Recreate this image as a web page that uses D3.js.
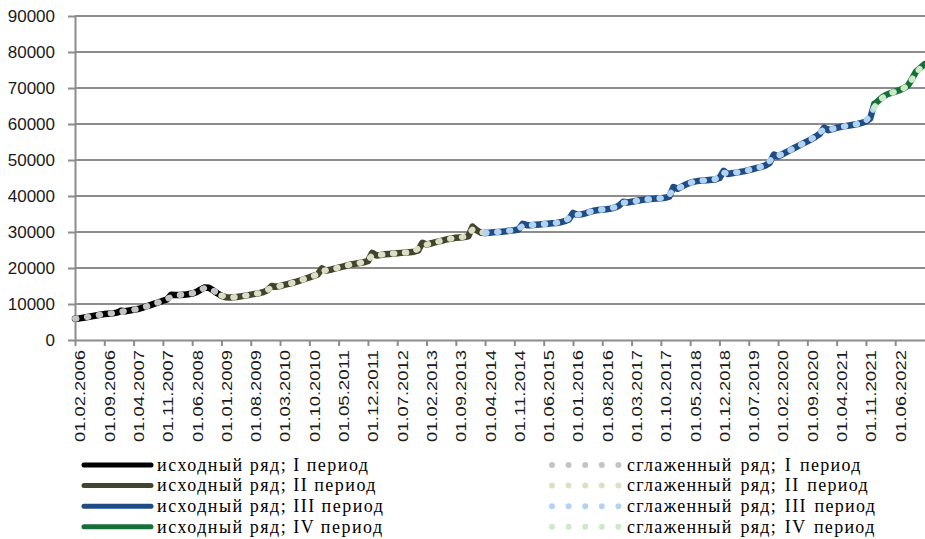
<!DOCTYPE html>
<html>
<head>
<meta charset="utf-8">
<script src="https://cdnjs.cloudflare.com/ajax/libs/d3/7.8.5/d3.min.js"></script>
<style>
body{margin:0;background:#fff;}
svg{display:block;}
</style>
</head>
<body>
<svg class="chart"></svg>
<script>
// months from 01.02.2006, one value per month
const startDate="01.02.2006";
const periodStarts=["01.02.2006","01.02.2009","01.05.2014","01.02.2022"];
const periodNames=["I","II","III","IV"];

const origI=[
5900,6000,6200,6400,6600,6800,7000,7200,7300,7400,7600,8100,
8000,8200,8400,8600,8900,9300,9700,10100,10500,10900,11300,12600,
12500,12500,12600,12700,12900,13300,14000,14600,14500,13800,13000,12300];
const origII=[
11900,11800,11900,12000,12200,12400,12600,12800,13000,13300,13800,15000,
14800,15000,15300,15600,15900,16200,16600,17000,17400,17800,18200,19900,
19300,19500,19800,20100,20400,20700,21000,21200,21400,21600,21900,24200,
23500,23600,23800,23900,24000,24100,24200,24300,24400,24500,24900,27000,
26500,26800,27100,27400,27700,28000,28200,28400,28500,28600,28800,31500,
30500,29800,29700];
const origIII=[
29800,29900,30000,30100,30200,30400,30500,30700,32300,
31900,31900,32000,32100,32200,32300,32400,32500,32700,33000,33500,35300,
34800,34900,35200,35600,35900,36100,36200,36300,36500,36800,37300,38400,
38200,38400,38600,38800,39000,39100,39200,39300,39400,39500,39800,42500,
42000,42600,43200,43700,44000,44200,44300,44400,44500,44600,45000,47000,
46100,46300,46500,46700,46900,47200,47500,47800,48100,48500,49200,51500,
51000,51600,52200,52800,53400,54000,54600,55200,55800,56500,57300,59000,
58300,58600,58900,59200,59400,59600,59800,60000,60300,60700,61500,65500];
const origIV=[66500,67500,68200,68600,69000,69400,69900,70600,72500,74600,75600,76600];

const smoothI=[
5900,6050,6200,6400,6600,6800,7000,7150,7300,7450,7650,7900,
8050,8200,8400,8650,8950,9300,9700,10100,10500,10900,11400,12000,
12400,12500,12600,12750,12950,13350,13950,14450,14400,13800,13050,12350];
const smoothII=[
11950,11850,11900,12000,12200,12400,12600,12800,13000,13350,13900,14600,
14850,15050,15300,15600,15900,16250,16600,17000,17400,17800,18300,19200,
19400,19550,19800,20100,20400,20700,21000,21200,21400,21650,22200,23500,
23600,23700,23800,23900,24000,24100,24200,24300,24400,24600,25400,26300,
26500,26800,27100,27400,27700,28000,28200,28400,28500,28700,29300,30700,
30400,29900,29750];
const smoothIII=[
29800,29900,30000,30100,30250,30400,30550,30900,31700,
31850,31900,32000,32100,32200,32300,32400,32550,32750,33100,33800,34700,
34800,35000,35250,35600,35900,36100,36200,36350,36550,36900,37500,38100,
38250,38400,38600,38800,39000,39100,39200,39300,39400,39550,40300,41700,
42100,42600,43150,43650,44000,44200,44300,44400,44500,44700,45400,46500,
46300,46400,46550,46750,46950,47200,47500,47800,48150,48650,49700,50900,
51200,51650,52200,52800,53400,54000,54600,55200,55850,56600,57600,58600,
58500,58650,58900,59200,59400,59600,59800,60000,60350,60900,62300,64600];
const smoothIV=[66300,67300,68100,68600,69000,69400,69900,70700,72400,74300,75500,76500];

const tickLabels=["01.02.2006","01.09.2006","01.04.2007","01.11.2007","01.06.2008","01.01.2009","01.08.2009",
"01.03.2010","01.10.2010","01.05.2011","01.12.2011","01.07.2012","01.02.2013","01.09.2013","01.04.2014",
"01.11.2014","01.06.2015","01.01.2016","01.08.2016","01.03.2017","01.10.2017","01.05.2018","01.12.2018",
"01.07.2019","01.02.2020","01.09.2020","01.04.2021","01.11.2021","01.06.2022"];
const yTicks=[0,10000,20000,30000,40000,50000,60000,70000,80000,90000];

window.onload=function(){
	const width=925,height=539;
	const margin={left:75,top:16,right:0,bottom:199};
	const chart=d3.select(".chart")
		.attr("width",width)
		.attr("height",height);

	const parse=d3.timeParse("%d.%m.%Y"),t0=parse(startDate);
	const monthIdx=function(s){return d3.timeMonth.count(t0,parse(s));};

	const orig=[origI,origII,origIII,origIV],smooth=[smoothI,smoothII,smoothIII,smoothIV];
	const origColors=["#000000","#42442e","#1f4c84","#17703a"];
	const smoothColors=["#c4c4c4","#dcdfc4","#b2d4f2","#cbeac8"];
	const lastIdx=monthIdx(periodStarts[3])+origIV.length-1;

	const xScale=d3.scaleLinear()
		.domain([0,lastIdx])
		.range([margin.left,width-0.5]);
	const yScale=d3.scaleLinear()
		.domain([0,90000])
		.range([height-margin.bottom,margin.top]);

	//grid
	chart.append("g")
		.selectAll("line")
		.data(yTicks.slice(1))
		.enter()
	.append("line")
		.attr("x1",margin.left)
		.attr("x2",width)
		.attr("y1",function(d){return yScale(d);})
		.attr("y2",function(d){return yScale(d);})
		.style("stroke","#8c8c8c")
		.style("stroke-width",2);

	//y axis
	const yAxis=d3.axisLeft(yScale)
		.tickValues(yTicks)
		.tickSize(7)
		.tickSizeOuter(0)
		.tickPadding(13)
		.tickFormat(d3.format("d"));
	const gy=chart.append("g")
		.attr("transform","translate("+margin.left+",0)")
		.call(yAxis);
	gy.selectAll("path,line").style("stroke","#8c8c8c").style("stroke-width",2);
	gy.selectAll("text").style("font-family","'Liberation Sans',Arial,sans-serif").style("font-size","17px").style("fill","#1a1a1a");

	//x axis
	const tickIdx=tickLabels.map(monthIdx);
	const xAxis=d3.axisBottom(xScale)
		.tickValues(tickIdx)
		.tickSize(6)
		.tickSizeOuter(0)
		.tickFormat(function(d,i){return tickLabels[i];});
	const gx=chart.append("g")
		.attr("transform","translate(0,"+(height-margin.bottom)+")")
		.call(xAxis);
	gx.selectAll("path,line").style("stroke","#8c8c8c").style("stroke-width",2);
	gx.selectAll("text")
		.attr("x",0).attr("y",0).attr("dy","0.35em")
		.attr("transform","translate(5,10) rotate(-90)")
		.attr("text-anchor","end")
		.attr("textLength",92)
		.attr("lengthAdjust","spacingAndGlyphs")
		.style("font-family","'Liberation Sans',Arial,sans-serif")
		.style("font-size","14px")
		.style("fill","#1a1a1a");

	//series: each period joined to the previous one's last point
	const line=d3.line()
		.x(function(d){return xScale(d.i);})
		.y(function(d){return yScale(d.v);});
	const toPoints=function(arrs,k){
		const s=monthIdx(periodStarts[k]);
		let pts=arrs[k].map(function(v,j){return {i:s+j,v:v};});
		if(k>0){const prev=arrs[k-1];pts.unshift({i:s-1,v:prev[prev.length-1]});}
		return pts;
	};
	const series=chart.append("g");
	orig.forEach(function(a,k){
		series.append("path")
			.attr("d",line(toPoints(orig,k)))
			.style("fill","none")
			.style("stroke",origColors[k])
			.style("stroke-width",6.5)
			.style("stroke-linejoin","round")
			.style("stroke-linecap","round");
	});
	smooth.forEach(function(a,k){
		series.append("path")
			.attr("d",line(toPoints(smooth,k)))
			.style("fill","none")
			.style("stroke",smoothColors[k])
			.style("stroke-width",6)
			.style("stroke-dasharray","1.5 10.5")
			.style("stroke-linecap","round");
	});

	//legend
	const legend=chart.append("g");
	const rowY=function(i){return 465+i*20.6;};
	const legendFont=function(sel){
		return sel.style("font-family","'Liberation Serif','Times New Roman',serif")
			.style("font-size","18px")
			.style("fill","#000");
	};
	periodNames.forEach(function(p,i){
		legend.append("line")
			.attr("x1",84).attr("x2",151)
			.attr("y1",rowY(i)).attr("y2",rowY(i))
			.style("stroke",origColors[i])
			.style("stroke-width",5)
			.style("stroke-linecap","round");
		legend.append("text")
			.attr("x",157).attr("y",rowY(i)).attr("dy","0.32em")
			.call(legendFont)
			.style("letter-spacing","1.5px")
			.text("исходный ряд; "+p+" период");
		legend.append("line")
			.attr("x1",552).attr("x2",618.5)
			.attr("y1",rowY(i)).attr("y2",rowY(i))
			.style("stroke",smoothColors[i])
			.style("stroke-width",6)
			.style("stroke-dasharray","0 16.6")
			.style("stroke-linecap","round");
		legend.append("text")
			.attr("x",627).attr("y",rowY(i)).attr("dy","0.32em")
			.call(legendFont)
			.style("letter-spacing","1.3px")
			.style("word-spacing","2px")
			.text("сглаженный ряд; "+p+" период");
	});
}
</script>
</body>
</html>
